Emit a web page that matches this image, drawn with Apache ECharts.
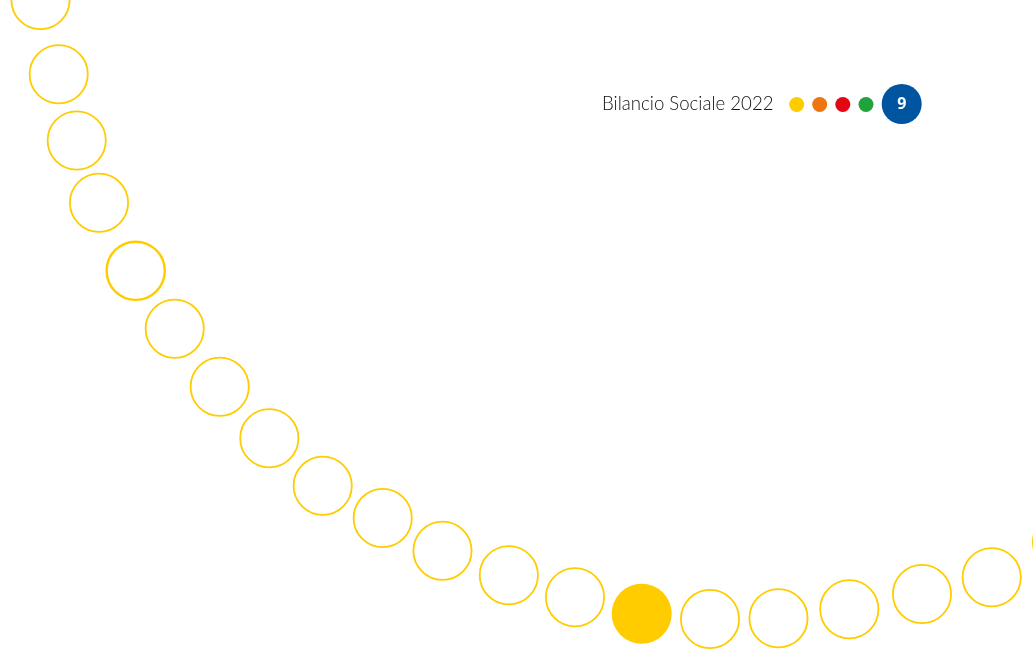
<!DOCTYPE html>
<html>
<head>
<meta charset="utf-8">
<script src="https://cdn.jsdelivr.net/npm/echarts@6/dist/echarts.min.js"></script>
<style>
html,body{margin:0;padding:0;background:#fff;}
#chart{width:1033px;height:651px;}
</style>
</head>
<body>
<div id="chart"></div>
<script>
// Ring positions along the curve (page pixel space used as axis values)
const ringX = [40.5, 58.7, 76.7, 99, 135.7, 174.7, 219.7, 269.3, 322.7, 382.7, 442.5, 508.8, 575, 710, 778.5, 849.3, 922, 991.7, 1062];
const ringY = [0, 74.2, 140.5, 202.7, 270.8, 328.8, 386.7, 438.2, 485.7, 518, 550.7, 575.3, 597.3, 619, 618.3, 609.3, 594, 577.2, 542];
// Highlighted (filled) circle = current page
const activeX = [641.7];
const activeY = [613.7];
// Header
const headerText = 'Bilancio Sociale 2022';
const dotX = [796.7, 819.7, 842.8, 866];
const dotY = [104.5, 104.5, 104.5, 104.5];
const dotColors = ['#FFCC00', '#EE7611', '#E30613', '#1FA33A'];
const pageNumber = ['9'];
const pageX = [901.7];
const pageY = [104];

const YELLOW = '#FFCC00';
const chart = echarts.init(document.getElementById('chart'), null, {renderer: 'canvas'});

const rings = ringX.map((x, i) => ({
  value: [x, ringY[i]],
  itemStyle: {borderWidth: i === 4 ? 2.4 : 1.8}
}));

chart.setOption({
  animation: false,
  backgroundColor: '#ffffff',
  title: {
    text: headerText,
    left: 602,
    top: 94,
    padding: 0,
    textStyle: {fontFamily: 'Lato', fontWeight: 300, fontSize: 18.6, color: '#111111'}
  },
  grid: {left: 0, right: 0, top: 0, bottom: 0},
  xAxis: {type: 'value', min: 0, max: 1033, show: false},
  yAxis: {type: 'value', min: 0, max: 651, inverse: true, show: false},
  series: [
    {
      type: 'scatter',
      symbol: 'circle',
      symbolSize: 58.2,
      clip: false,
      silent: true,
      itemStyle: {color: 'rgba(255,255,255,0)', borderColor: YELLOW, borderWidth: 1.8, opacity: 1},
      data: rings
    },
    {
      type: 'scatter',
      symbol: 'circle',
      symbolSize: 60,
      silent: true,
      itemStyle: {color: YELLOW, opacity: 1},
      data: activeX.map((x, i) => [x, activeY[i]])
    },
    {
      type: 'scatter',
      symbol: 'circle',
      symbolSize: 15,
      silent: true,
      itemStyle: {opacity: 1},
      data: dotX.map((x, i) => ({value: [x, dotY[i]], itemStyle: {color: dotColors[i], opacity: 1}}))
    },
    {
      type: 'scatter',
      symbol: 'circle',
      symbolSize: 40,
      silent: true,
      itemStyle: {color: '#0055A0', opacity: 1},
      label: {
        show: true, position: 'inside',
        formatter: p => pageNumber[p.dataIndex],
        color: '#ffffff', fontSize: 16, fontWeight: 'bold', fontFamily: 'Open Sans',
        offset: [0, 0.5]
      },
      data: pageX.map((x, i) => [x, pageY[i]])
    }
  ]
});
</script>
</body>
</html>
